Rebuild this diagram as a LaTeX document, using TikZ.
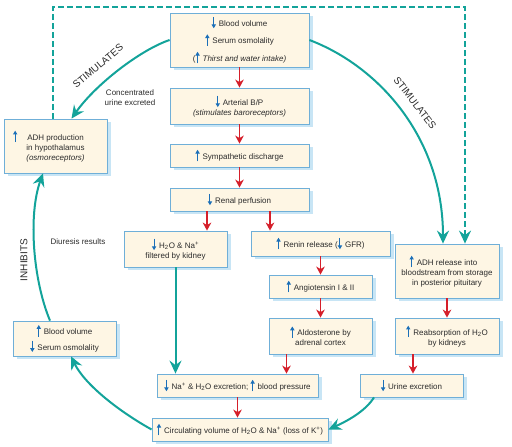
\documentclass[tikz,border=0pt]{standalone}
\usepackage{fontspec}
\setmainfont{Liberation Sans}
\usetikzlibrary{arrows.meta,shadows,calc}
\definecolor{boxfill}{HTML}{FEF6E4}
\definecolor{boxborder}{HTML}{6FAFD8}
\definecolor{shadowblue}{HTML}{C8E5F5}
\definecolor{tealc}{HTML}{13A39A}
\definecolor{redc}{HTML}{D51F2A}
\definecolor{arrowblue}{HTML}{1B6FB8}
\definecolor{textgray}{HTML}{2B2B2B}
\newcommand{\uparr}{\tikz[baseline=0pt]\draw[arrowblue,line width=1pt,-{Triangle[length=3.8pt,width=4.2pt]}] (0pt,-2pt) -- (0pt,9.5pt);}
\newcommand{\dnarr}{\tikz[baseline=0pt]\draw[arrowblue,line width=1pt,-{Triangle[length=3.8pt,width=4.2pt]}] (0pt,9.5pt) -- (0pt,-2pt);}
\newcommand{\gapsp}{\hspace{3pt}}
\begin{document}
\begin{tikzpicture}[x=1pt,y=-1pt,
  box/.style={draw=boxborder, line width=0.8pt, fill=boxfill, align=center, inner sep=2pt,
    font=\fontsize{8}{10}\selectfont, text=textgray,
    drop shadow={shadow xshift=3.5pt, shadow yshift=-3pt, fill=shadowblue, opacity=1}},
  freetext/.style={font=\fontsize{8}{10}\selectfont, text=textgray, align=center},
  biglabel/.style={font=\fontsize{10}{12}\selectfont, text=textgray},
  redarrow/.style={draw=redc, line width=1.7pt, -{Stealth[length=8pt,width=8.5pt,inset=2.5pt]}},
  tealarrow/.style={draw=tealc, line width=2pt, -{Stealth[length=13pt,width=12pt,inset=4.5pt]}},
  tealdash/.style={draw=tealc, line width=2pt, dash pattern=on 5.5pt off 3.5pt, -{Stealth[length=13pt,width=12pt,inset=4.5pt]}}
]
\path[use as bounding box] (0,0) rectangle (512,447);

% boxes
\node[box, minimum width=139pt, minimum height=54pt] (top) at (239.5,40)
  {\dnarr\gapsp Blood volume\\[4pt] \uparr\gapsp Serum osmolality\\[4pt] (\uparr\gapsp\textit{Thirst and water intake)}};
\node[box, minimum width=139pt, minimum height=36pt] (art) at (239.5,106)
  {\dnarr\gapsp Arterial B/P\\ \textit{(stimulates baroreceptors)}};
\node[box, minimum width=139pt, minimum height=23pt] (symp) at (239.5,155.5)
  {\uparr\gapsp Sympathetic discharge};
\node[box, minimum width=139pt, minimum height=23pt] (renal) at (239.5,199.5)
  {\dnarr\gapsp Renal perfusion};
\node[box, minimum width=103pt, minimum height=36pt] (filt) at (175.5,249)
  {\dnarr\gapsp H\textsubscript{2}O \& Na\textsuperscript{+}\\ filtered by kidney};
\node[box, minimum width=139pt, minimum height=25pt] (renin) at (320.5,243.5)
  {\uparr\gapsp Renin release (\dnarr\gapsp GFR)};
\node[box, minimum width=103pt, minimum height=23pt] (angio) at (320.5,286.5)
  {\uparr\gapsp Angiotensin I \& II};
\node[box, minimum width=103pt, minimum height=36pt] (aldo) at (320.5,336)
  {\uparr\gapsp Aldosterone by\\ adrenal cortex};
\node[box, minimum width=104pt, minimum height=54pt] (adhrel) at (447,271)
  {\llap{\uparr\gapsp}ADH release into\\ bloodstream from storage\\ in posterior pituitary};
\node[box, minimum width=104pt, minimum height=36pt] (reab) at (447,336)
  {\uparr\gapsp Reabsorption of H\textsubscript{2}O\\ by kidneys};
\node[box, minimum width=103pt, minimum height=23pt] (urine) at (411.5,385.5)
  {\dnarr\gapsp Urine excretion};
\node[box, minimum width=161pt, minimum height=23pt] (naexc) at (237.5,385.5)
  {\dnarr\gapsp Na\textsuperscript{+} \& H\textsubscript{2}O excretion; \uparr\gapsp blood pressure};
\node[box, minimum width=176pt, minimum height=23pt] (circ) at (240,429.5)
  {\uparr\gapsp Circulating volume of H\textsubscript{2}O \& Na\textsuperscript{+} (loss of K\textsuperscript{+})};
\node[box, minimum width=103pt, minimum height=35pt] (bv) at (64.5,338.5)
  {\uparr\gapsp Blood volume\\[2pt] \dnarr\gapsp Serum osmolality};
\node[box, minimum width=103pt, minimum height=54pt] (adhprod) at (55.5,146)
  {\llap{\uparr\hspace{10pt}}ADH production\\ in hypothalamus\\ \textit{(osmoreceptors)}};

% free texts
\node[freetext] (conc) at (130,98) {Concentrated\\ urine excreted};
\node[freetext] (diur) at (78,242) {Diuresis results};
\node[biglabel, rotate=40] (stimL) at (98,66) {STIMULATES};
\node[biglabel, rotate=-52] (stimR) at (415,103) {STIMULATES};
\node[biglabel, rotate=90] (inhib) at (24,260) {INHIBITS};

% red arrows
\draw[redarrow] (top) -- (art);
\draw[redarrow] (art) -- (symp);
\draw[redarrow] (symp) -- (renal);
\draw[redarrow] ([xshift=-32.5pt]renal.south) -- ([xshift=-32.5pt]renal.south |- filt.north);
\draw[redarrow] ([xshift=30.5pt]renal.south) -- ([xshift=30.5pt]renal.south |- renin.north);
\draw[redarrow] (renin) -- (angio);
\draw[redarrow] (angio) -- (aldo);
\draw[redarrow] ([xshift=-34pt]aldo.south) -- ([xshift=-34pt]aldo.south |- naexc.north);
\draw[redarrow] (adhrel) -- (reab);
\draw[redarrow] ([xshift=-34pt]reab.south) -- ([xshift=-34pt]reab.south |- urine.north);
\draw[redarrow] (naexc) -- (naexc |- circ.north);

% teal arrows
\draw[tealarrow] (top.west) .. controls (140,50) and (95,85) .. ([xshift=16pt]adhprod.north);
\draw[tealarrow] (top.east) .. controls (378,66) and (443,137) .. ([xshift=-4pt]adhrel.north);
\draw[tealarrow] ([xshift=-14.5pt]bv.north) .. controls (33,280) and (28,215) .. ([xshift=-12.5pt]adhprod.south);
\draw[tealarrow] (circ.west) .. controls (120,412) and (85,385) .. ([xshift=6.5pt]bv.south);
\draw[tealarrow] ([xshift=-37.5pt]urine.south) .. controls (365,412) and (345,422) .. (circ.east);
\draw[tealarrow] (filt.south) -- (filt.south |- naexc.north);
\coordinate (dtop) at (465,7);
\draw[tealdash] ([xshift=-2.5pt]adhprod.north) |- (dtop) -- (dtop |- adhrel.north);
\end{tikzpicture}
\end{document}
